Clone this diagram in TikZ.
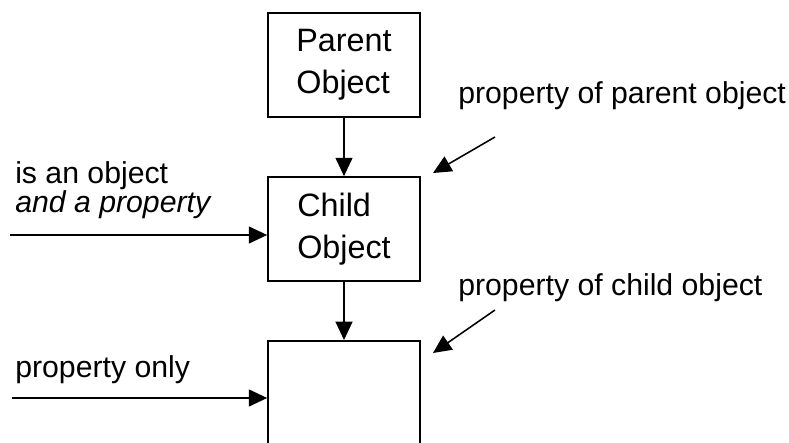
\documentclass[tikz,border=0pt]{standalone}
\usepackage{fontspec}
\setmainfont{Liberation Sans}
\usetikzlibrary{shapes,arrows.meta}

\tikzset{
  objbox/.style={draw, line width=1.2pt, minimum width=3.8cm, minimum height=2.6cm, align=left, inner sep=0pt,
    font=\fontsize{23}{30}\selectfont},
  proparrow/.style={line width=1.1pt, -{Triangle[length=13pt,width=12pt]}},
  lbl/.style={inner sep=0pt, align=left}
}

\begin{document}
\begin{tikzpicture}[font=\fontsize{21.5}{21}\selectfont]
					\useasboundingbox (0,0) rectangle (19.725,11.05);
					% the three boxes
					\node[objbox] (parent) at (8.6,9.425) {Parent\\Object};
					\node[objbox] (child) at (8.6,5.325) {Child\\Object};
					\node[objbox, minimum height=3.2cm, anchor=north] (leaf) at (8.6,2.55) {};
					\draw[proparrow] (parent.south) -- (child.north);
					\draw[proparrow] (child.south) -- (leaf.north);
					% left side
					\node[lbl, anchor=west] (isobj) at (0.375,6.3) {is an object\\\textit{and a property}};
					\coordinate (isobjin) at (0.25,5.175);
					\draw[proparrow] (isobjin) -- (isobjin -| child.west);
					\node[lbl, anchor=west] (propon) at (0.375,1.8) {property only};
					\coordinate (proponin) at (0.3,1.1);
					\draw[proparrow] (proponin) -- (proponin -| leaf.west);
					% right side
					\node[lbl, anchor=west] (ofparent) at (11.45,8.65) {property of parent object};
					\coordinate (pa) at (12.375,7.625);
					\coordinate (pb) at (10.825,6.725);
					\draw[proparrow] (pa) -- (pb);
					\node[lbl, anchor=west] (ofchild) at (11.45,3.85) {property of child object};
					\coordinate (ca) at (12.375,3.3);
					\coordinate (cb) at (10.825,2.225);
					\draw[proparrow] (ca) -- (cb);
				\end{tikzpicture}
\end{document}
